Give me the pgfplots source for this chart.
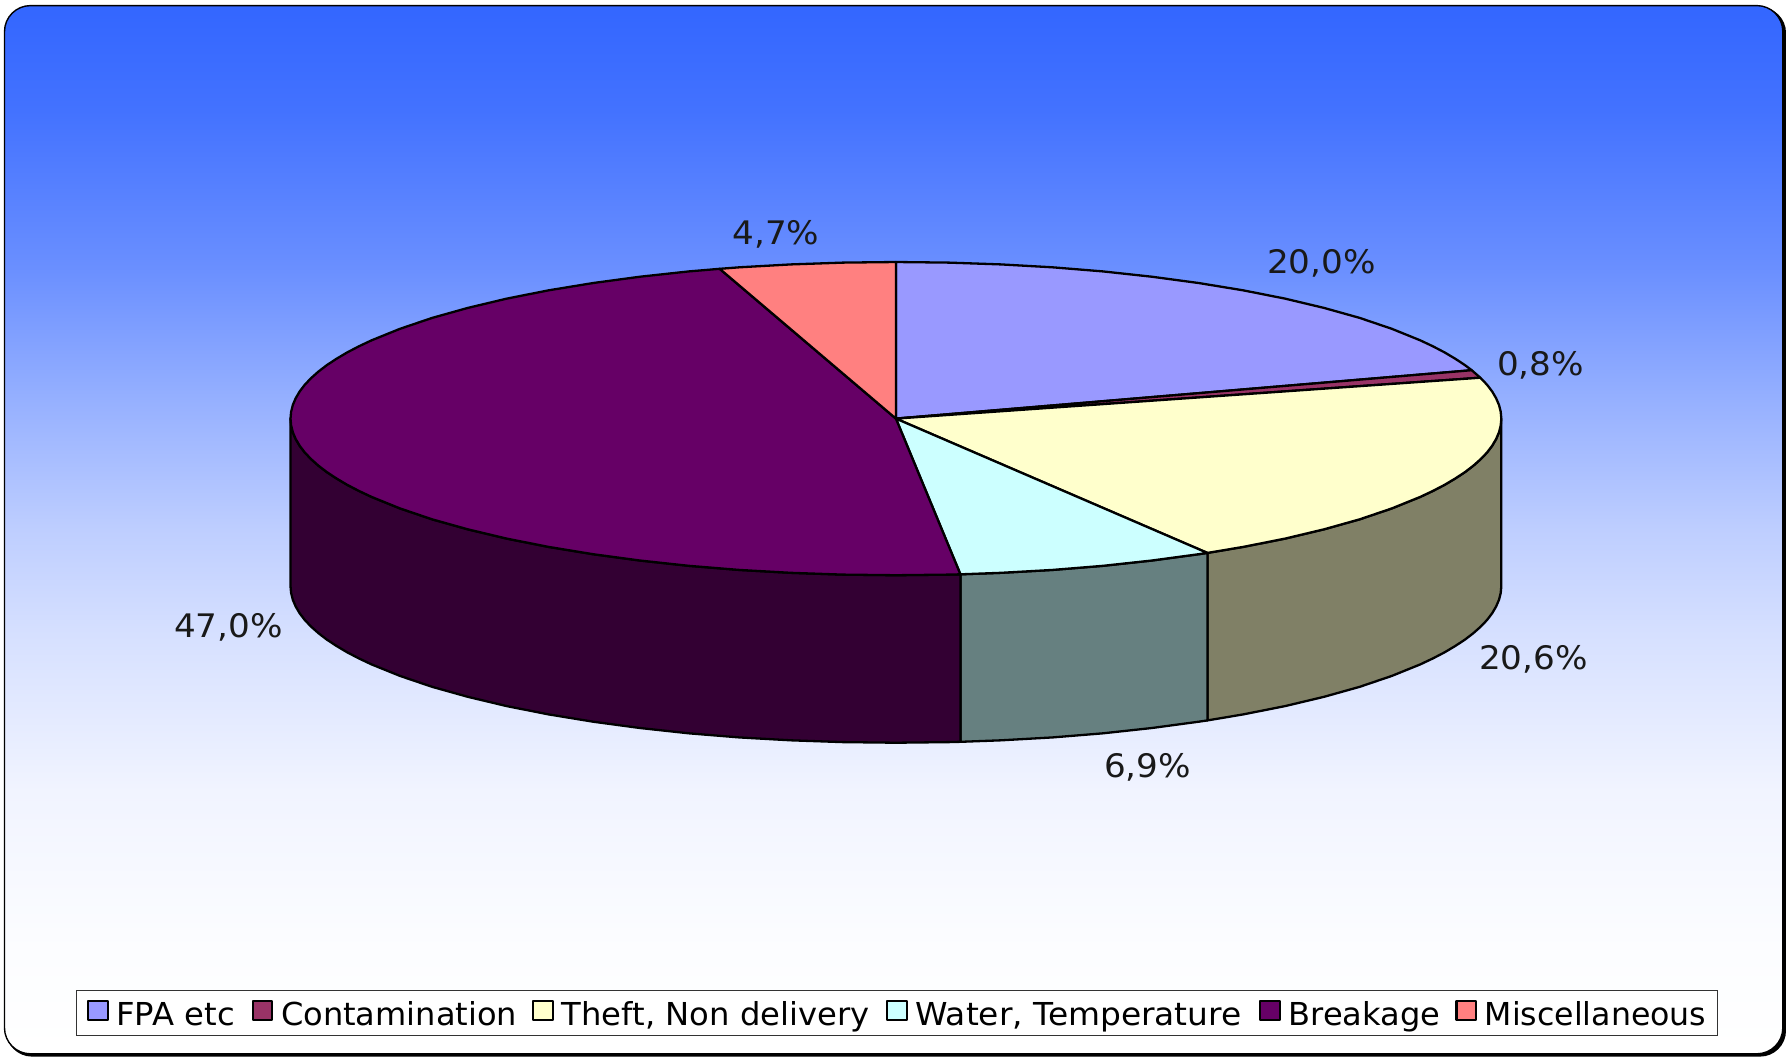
\documentclass[border=0pt]{standalone}
\usepackage{fontspec}
\setmainfont{DejaVu Sans}
\usepackage{pgfplots}
\pgfplotsset{compat=1.18}
\definecolor{fpa}{HTML}{9999FF}
\definecolor{con}{HTML}{993366}
\definecolor{the}{HTML}{FFFFCC}
\definecolor{wat}{HTML}{CCFFFF}
\definecolor{bre}{HTML}{660066}
\definecolor{mis}{HTML}{FF8080}
\definecolor{thes}{HTML}{808066}
\definecolor{wats}{HTML}{668080}
\definecolor{bres}{HTML}{330033}
\definecolor{ga}{RGB}{51,102,255}
\definecolor{gb}{RGB}{67,114,255}
\definecolor{gc}{RGB}{106,143,255}
\definecolor{gd}{RGB}{151,177,255}
\definecolor{ge}{RGB}{190,206,255}
\definecolor{gf}{RGB}{214,224,255}
\definecolor{gg}{RGB}{241,244,255}
\definecolor{gh}{RGB}{252,253,255}
\pgfdeclareverticalshading{bgshade}{100bp}{color(0bp)=(white); color(25bp)=(white); color(30bp)=(gh); color(37.5bp)=(gg); color(45bp)=(gf); color(50bp)=(ge); color(56bp)=(gd); color(62.5bp)=(gc); color(70bp)=(gb); color(75bp)=(ga); color(100bp)=(ga)}
\newcommand\lt[3]{\makebox[#1pt][l]{\scalebox{#2}[1]{#3}}}
\newcommand\dl[1]{\scalebox{1.055}[1]{#1}}
\begin{document}
\begin{tikzpicture}[x=1pt,y=1pt]
\path (0,0) rectangle (893,528.5);
\fill[black,rounded corners=13pt] (3,0.2) rectangle (893,525);
\path[shading=bgshade,draw=black,line width=0.7pt,rounded corners=13pt]
  (2.25,1.6) rectangle (891.4,525.7);
\begin{axis}[hide axis,scale only axis,width=893pt,height=528.5pt,
  xmin=0,xmax=1786,ymin=0,ymax=1057,y dir=reverse,clip=false,
  legend columns=6,
  legend style={at={(axis cs:896.8,1013)},anchor=center,draw=black!80,line width=0.5pt,fill=white,
    inner xsep=5.25pt,inner ysep=3.2pt,
    font=\fontsize{15.8}{18}\selectfont,
    nodes={inner sep=0pt,text height=14.3pt,text depth=1.4pt},
    /tikz/every odd column/.append style={column sep=3.85pt},
    /tikz/every even column/.append style={column sep=8.5pt}},
  legend image code/.code={\draw[#1,line width=1.1pt] (0pt,-3.4pt) rectangle (9.8pt,6.2pt);},
]
% sides
\addplot[forget plot,mark=none,fill=thes,draw=black,line width=1.15pt,line join=round] coordinates {
(1501.3,418.6)(1500.7,425.4)(1499.0,432.2)(1496.1,439.0)(1492.1,445.8)(1487.0,452.5)(1480.7,459.1)(1473.3,465.7)(1464.8,472.2)(1455.2,478.5)(1444.6,484.8)(1432.9,490.9)(1420.2,496.9)(1391.8,508.4)(1359.7,519.3)(1324.0,529.3)(1285.0,538.6)(1243.1,546.9)(1207.4,552.9)
(1207.4,720.4)(1243.1,714.4)(1285.0,706.1)(1324.0,696.8)(1359.7,686.8)(1391.8,675.9)(1420.2,664.4)(1432.9,658.4)(1444.6,652.3)(1455.2,646.0)(1464.8,639.7)(1473.3,633.2)(1480.7,626.6)(1487.0,620.0)(1492.1,613.3)(1496.1,606.5)(1499.0,599.7)(1500.7,592.9)(1501.3,586.1)
} -- cycle;
\addplot[forget plot,mark=none,fill=wats,draw=black,line width=1.15pt,line join=round] coordinates {
(1207.4,552.9)(1198.6,554.2)(1151.8,560.5)(1103.0,565.8)(1052.6,569.9)(1001.0,572.8)(960.4,574.3)
(960.4,741.8)(1001.0,740.3)(1052.6,737.4)(1103.0,733.3)(1151.8,728.0)(1198.6,721.7)(1207.4,720.4)
} -- cycle;
\addplot[forget plot,mark=none,fill=bres,draw=black,line width=1.15pt,line join=round] coordinates {
(960.4,574.3)(948.7,574.6)(895.9,575.2)(843.1,574.6)(790.8,572.8)(739.2,569.9)(688.8,565.8)(640.0,560.5)(593.2,554.2)(548.7,546.9)(506.8,538.6)(467.8,529.3)(432.1,519.3)(400.0,508.4)(371.6,496.9)(358.9,490.9)(347.2,484.8)(336.6,478.5)(327.0,472.2)(318.5,465.7)(311.1,459.1)(304.8,452.5)(299.7,445.8)(295.7,439.0)(292.8,432.2)(291.1,425.4)(290.5,418.6)
(290.5,586.1)(291.1,592.9)(292.8,599.7)(295.7,606.5)(299.7,613.3)(304.8,620.0)(311.1,626.6)(318.5,633.2)(327.0,639.7)(336.6,646.0)(347.2,652.3)(358.9,658.4)(371.6,664.4)(400.0,675.9)(432.1,686.8)(467.8,696.8)(506.8,706.1)(548.7,714.4)(593.2,721.7)(640.0,728.0)(688.8,733.3)(739.2,737.4)(790.8,740.3)(843.1,742.1)(895.9,742.7)(948.7,742.1)(960.4,741.8)
} -- cycle;
% top
\addplot[mark=none,fill=fpa,draw=black,line width=1.15pt,line join=round] coordinates {
(895.9,418.6)(895.9,262.0)(948.7,262.6)(1001.0,264.4)(1052.6,267.3)(1103.0,271.4)(1151.8,276.7)(1198.6,283.0)(1243.1,290.3)(1285.0,298.6)(1324.0,307.9)(1359.7,317.9)(1391.8,328.8)(1420.2,340.3)(1432.9,346.3)(1444.6,352.4)(1455.2,358.7)(1464.8,365.0)(1471.7,370.2)
} -- cycle;
\addlegendentry{\lt{59.03}{1.02}{FPA etc}}
\addplot[mark=none,fill=con,draw=black,line width=1.15pt,line join=round] coordinates {
(895.9,418.6)(1471.7,370.2)(1480.3,377.7)
} -- cycle;
\addlegendentry{\lt{117.08}{1.015}{Contamination}}
\addplot[mark=none,fill=the,draw=black,line width=1.15pt,line join=round] coordinates {
(895.9,418.6)(1480.3,377.7)(1487.0,384.7)(1492.1,391.4)(1496.1,398.2)(1499.0,405.0)(1500.7,411.8)(1501.3,418.6)(1500.7,425.4)(1499.0,432.2)(1496.1,439.0)(1492.1,445.8)(1487.0,452.5)(1480.7,459.1)(1473.3,465.7)(1464.8,472.2)(1455.2,478.5)(1444.6,484.8)(1432.9,490.9)(1420.2,496.9)(1391.8,508.4)(1359.7,519.3)(1324.0,529.3)(1285.0,538.6)(1243.1,546.9)(1207.4,552.9)
} -- cycle;
\addlegendentry{\lt{153.65}{1.02}{Theft, Non delivery}}
\addplot[mark=none,fill=wat,draw=black,line width=1.15pt,line join=round] coordinates {
(895.9,418.6)(1207.4,552.9)(1198.6,554.2)(1151.8,560.5)(1103.0,565.8)(1052.6,569.9)(1001.0,572.8)(960.4,574.3)
} -- cycle;
\addlegendentry{\lt{163.3}{1.04}{Water, Temperature}}
\addplot[mark=none,fill=bre,draw=black,line width=1.15pt,line join=round] coordinates {
(895.9,418.6)(960.4,574.3)(948.7,574.6)(895.9,575.2)(843.1,574.6)(790.8,572.8)(739.2,569.9)(688.8,565.8)(640.0,560.5)(593.2,554.2)(548.7,546.9)(506.8,538.6)(467.8,529.3)(432.1,519.3)(400.0,508.4)(371.6,496.9)(358.9,490.9)(347.2,484.8)(336.6,478.5)(327.0,472.2)(318.5,465.7)(311.1,459.1)(304.8,452.5)(299.7,445.8)(295.7,439.0)(292.8,432.2)(291.1,425.4)(290.5,418.6)(291.1,411.8)(292.8,405.0)(295.7,398.2)(299.7,391.4)(304.8,384.7)(311.1,378.1)(318.5,371.5)(327.0,365.0)(336.6,358.7)(347.2,352.4)(358.9,346.3)(371.6,340.3)(400.0,328.8)(432.1,317.9)(467.8,307.9)(506.8,298.6)(548.7,290.3)(593.2,283.0)(640.0,276.7)(688.8,271.4)(719.7,268.8)
} -- cycle;
\addlegendentry{\lt{74.9}{1.015}{Breakage}}
\addplot[mark=none,fill=mis,draw=black,line width=1.15pt,line join=round] coordinates {
(895.9,418.6)(719.7,268.8)(739.2,267.3)(790.8,264.4)(843.1,262.6)(895.9,262.0)
} -- cycle;
\addlegendentry{\lt{110.9}{1}{Miscellaneous}}
% labels
\begin{scope}[every node/.style={font=\fontsize{16.2}{18}\selectfont,text=black!90}]
\node at (axis cs:1321.5,263) {\dl{20,0\%}};
\node at (axis cs:1540.5,365.5) {\dl{0,8\%}};
\node at (axis cs:1533.5,659) {\dl{20,6\%}};
\node at (axis cs:1147.5,767.5) {\dl{6,9\%}};
\node at (axis cs:228.5,627.5) {\dl{47,0\%}};
\node at (axis cs:776,234.5) {\dl{4,7\%}};
\end{scope}
\end{axis}
\end{tikzpicture}
\end{document}
